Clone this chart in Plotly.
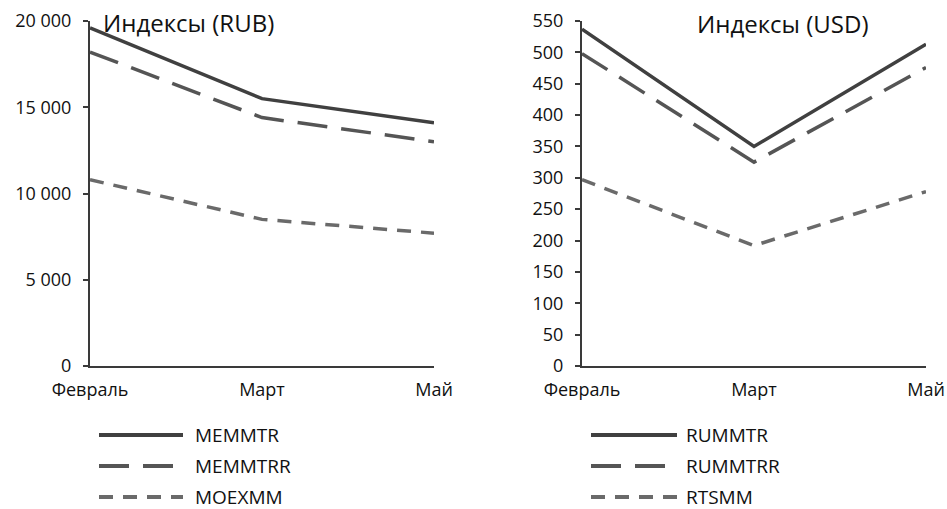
import plotly.graph_objects as go

# Months shown on both charts
months = ["Февраль", "Март", "Май"]

# Ruble-denominated indices
rub_names = ["MEMMTR", "MEMMTRR", "MOEXMM"]
memmtr = [19600, 15500, 14100]
memmtrr = [18200, 14400, 13000]
moexmm = [10800, 8500, 7700]

# Dollar-denominated indices
usd_names = ["RUMMTR", "RUMMTRR", "RTSMM"]
rummtr = [537, 350, 513]
rummtrr = [498, 325, 476]
rtsmm = [297, 192, 278]

rub_ticks = [0, 5000, 10000, 15000, 20000]
usd_ticks = list(range(0, 551, 50))

W, H = 947, 509
FONT = "Open Sans"
TXT = "#111111"

styles = [
    dict(color="#404040", width=3.5, dash="solid"),
    dict(color="#555555", width=3.5, dash="30px,14px"),
    dict(color="#6a6a6a", width=3.5, dash="14px,10px"),
]


def px_x(x):
    return x / W


def px_y(y):
    return 1 - y / H


fig = go.Figure()

for vals, name, st in zip([memmtr, memmtrr, moexmm], rub_names, styles):
    fig.add_trace(go.Scatter(x=months, y=vals, name=name, mode="lines",
                             line=st, xaxis="x", yaxis="y", showlegend=False))
for vals, name, st in zip([rummtr, rummtrr, rtsmm], usd_names, styles):
    fig.add_trace(go.Scatter(x=months, y=vals, name=name, mode="lines",
                             line=st, xaxis="x2", yaxis="y2", showlegend=False))

ydom = [px_y(366), px_y(21)]
axis_common = dict(showgrid=False, zeroline=False, showline=True,
                   linecolor="#3a3a3a", linewidth=2, automargin=False)
xaxis_common = dict(axis_common, type="category", range=[0, 2], ticks="",
                    ticklabelstandoff=6,
                    tickfont=dict(family=FONT, size=18, color=TXT))
yaxis_common = dict(axis_common, ticks="outside", ticklen=5, tickwidth=1.5,
                    tickcolor="#3a3a3a", ticklabelstandoff=8,
                    tickfont=dict(family=FONT, size=18, color=TXT))

fig.update_layout(
    width=W, height=H,
    margin=dict(l=0, r=0, t=0, b=0, autoexpand=False),
    paper_bgcolor="white", plot_bgcolor="white",
    separators=", ",
    xaxis=dict(xaxis_common, domain=[px_x(90), px_x(434)], anchor="y"),
    yaxis=dict(yaxis_common, domain=ydom, range=[0, 20000],
               tickvals=rub_ticks, tickformat=",d", anchor="x"),
    xaxis2=dict(xaxis_common, domain=[px_x(582), px_x(926)], anchor="y2"),
    yaxis2=dict(yaxis_common, domain=ydom, range=[0, 550],
                tickvals=usd_ticks, anchor="x2"),
)

# Chart titles
for title, cx, cy in [("Индексы (RUB)", 188, 22), ("Индексы (USD)", 782, 24)]:
    fig.add_annotation(text=title, x=px_x(cx), y=px_y(cy),
                       xref="paper", yref="paper", showarrow=False,
                       xanchor="center", yanchor="middle",
                       font=dict(family=FONT, size=24, color=TXT))

# Legends below each chart
rows = [435, 466, 497]
for names, x0, x1, xt in [(rub_names, 99, 183, 193), (usd_names, 591, 677, 684)]:
    for name, st, yy in zip(names, styles, rows):
        fig.add_shape(type="line", xref="paper", yref="paper",
                      x0=px_x(x0), x1=px_x(x1), y0=px_y(yy), y1=px_y(yy),
                      line=dict(st, width=4))
        fig.add_annotation(text=name, x=px_x(xt), y=px_y(yy), xref="paper",
                           yref="paper", xanchor="left", yanchor="middle",
                           showarrow=False,
                           font=dict(family=FONT, size=19, color=TXT))

fig.write_html("out.html")
